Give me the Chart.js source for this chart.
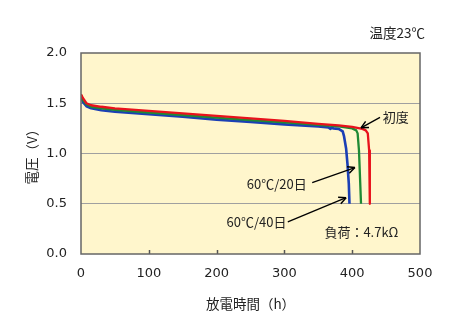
<!DOCTYPE html>
<html><head><meta charset="utf-8">
<script src="https://cdn.jsdelivr.net/npm/chart.js@4"></script>
<style>html,body{margin:0;padding:0;background:#fff}#wrap{width:450px;height:329px}</style>
</head><body><div id="wrap"><canvas id="c" width="450" height="329"></canvas></div>
<script>
const xTicks = [0,100,200,300,400,500];
const yTicks = [0.0,0.5,1.0,1.5,2.0];
const redX   = [0,3,8,15,30,50,100,150,200,250,300,350,380,400,415,420,423,425,426];
const redY   = [1.59,1.55,1.50,1.48,1.465,1.45,1.425,1.40,1.375,1.35,1.325,1.295,1.28,1.265,1.245,1.23,1.20,1.03,0.5];
const greenX = [0,3,8,15,30,50,100,150,200,250,300,350,380,400,406,408,410,413];
const greenY = [1.58,1.53,1.49,1.465,1.448,1.435,1.408,1.383,1.357,1.333,1.31,1.285,1.27,1.25,1.23,1.20,1.03,0.5];
const blueX  = [0,3,8,15,30,50,100,150,200,250,300,350,365,368,370,372,380,386,388,391,393,395,396];
const blueY  = [1.57,1.51,1.47,1.45,1.43,1.415,1.39,1.365,1.337,1.315,1.29,1.27,1.26,1.245,1.26,1.25,1.245,1.22,1.17,1.05,0.9,0.7,0.5];
const seriesNames = ['初度','60℃/20日','60℃/40日'];

const pts = (xs, ys) => xs.map((x, i) => ({x, y: ys[i]}));
const JP = '"Noto Sans CJK JP", "DejaVu Sans", sans-serif';
const NUM = '"DejaVu Sans", sans-serif';

const deco = {
  id: 'deco',
  beforeDraw(chart) {
    const {ctx, chartArea: a} = chart;
    ctx.save();
    ctx.fillStyle = '#FFF6CC';
    ctx.fillRect(a.left, a.top, a.right - a.left, a.bottom - a.top);
    ctx.restore();
  },
  afterDraw(chart) {
    const {ctx, chartArea: a, scales: {x, y}} = chart;
    ctx.save();
    ctx.strokeStyle = '#555';
    ctx.lineWidth = 1.5;
    xTicks.slice(1, -1).forEach(v => {
      const px = Math.round(x.getPixelForValue(v)) + 0.5;
      ctx.beginPath(); ctx.moveTo(px, a.bottom); ctx.lineTo(px, a.bottom - 4); ctx.stroke();
    });
    ctx.strokeStyle = '#666';
    ctx.lineWidth = 1.5;
    ctx.strokeRect(a.left, a.top, a.right - a.left, a.bottom - a.top);
    const arrow = (x1, y1, x2, y2) => {
      const X1 = x.getPixelForValue(x1), Y1 = y.getPixelForValue(y1);
      const X2 = x.getPixelForValue(x2), Y2 = y.getPixelForValue(y2);
      ctx.strokeStyle = '#000'; ctx.lineWidth = 1.3;
      ctx.beginPath(); ctx.moveTo(X1, Y1); ctx.lineTo(X2, Y2); ctx.stroke();
      const ang = Math.atan2(Y2 - Y1, X2 - X1), L = 8, W = 0.45;
      ctx.beginPath();
      ctx.moveTo(X2, Y2);
      ctx.lineTo(X2 - L * Math.cos(ang - W), Y2 - L * Math.sin(ang - W));
      ctx.moveTo(X2, Y2);
      ctx.lineTo(X2 - L * Math.cos(ang + W), Y2 - L * Math.sin(ang + W));
      ctx.lineWidth = 1.5; ctx.stroke();
    };
    arrow(441, 1.36, 413, 1.255);
    arrow(341, 0.71, 404, 0.86);
    arrow(305, 0.32, 391, 0.56);
    ctx.fillStyle = '#222';
    ctx.font = '13px ' + JP;
    ctx.textBaseline = 'middle';
    ctx.textAlign = 'left';
    ctx.fillText(seriesNames[0], x.getPixelForValue(445), y.getPixelForValue(1.36));
    ctx.textAlign = 'right';
    ctx.fillText(seriesNames[1], x.getPixelForValue(333), y.getPixelForValue(0.70));
    ctx.fillText(seriesNames[2], x.getPixelForValue(303), y.getPixelForValue(0.315));
    ctx.textAlign = 'left';
    ctx.fillText('負荷：4.7kΩ', x.getPixelForValue(359), y.getPixelForValue(0.215));
    ctx.textAlign = 'right';
    ctx.font = '13.5px ' + JP;
    ctx.fillText('温度23℃', 425, 33);
    ctx.restore();
  }
};

new Chart(document.getElementById('c'), {
  type: 'line',
  data: {
    datasets: [
      {label: seriesNames[0], data: pts(redX, redY), borderColor: '#E8121C', borderWidth: 2.3},
      {label: seriesNames[1], data: pts(greenX, greenY), borderColor: '#1E8A34', borderWidth: 2.3},
      {label: seriesNames[2], data: pts(blueX, blueY), borderColor: '#1B3FB5', borderWidth: 2.6}
    ]
  },
  options: {
    responsive: false,
    animation: false,
    devicePixelRatio: 1,
    layout: {padding: {left: 0, right: 30, top: 53, bottom: 0}},
    elements: {point: {radius: 0}, line: {tension: 0, fill: false, borderJoinStyle: 'round', borderCapStyle: 'butt'}},
    plugins: {legend: {display: false}, tooltip: {enabled: false}},
    scales: {
      x: {
        type: 'linear', min: 0, max: 500,
        afterFit(s) { s.height = 75; },
        afterBuildTicks(s) { s.ticks = xTicks.map(v => ({value: v})); },
        grid: {display: false, drawTicks: false},
        border: {display: false},
        ticks: {padding: 12, color: '#222', font: {family: NUM, size: 13}, maxRotation: 0},
        title: {display: true, text: '放電時間（h）', color: '#222', font: {family: JP, size: 13.5}, padding: {top: 0, bottom: 17}}
      },
      y: {
        type: 'linear', min: 0, max: 2,
        afterFit(s) { s.width = 81; },
        afterBuildTicks(s) { s.ticks = yTicks.map(v => ({value: v})); },
        grid: {drawTicks: false, color: c => (c.tick && (c.tick.value === 0 || c.tick.value === 2)) ? 'rgba(0,0,0,0)' : '#A0A0A0', lineWidth: 1},
        border: {display: false},
        ticks: {padding: 14, color: '#222', font: {family: NUM, size: 13}, callback: v => Number(v).toFixed(1)},
        title: {display: true, text: '電圧（V）', color: '#222', font: {family: JP, size: 13.5}, padding: {top: 24, bottom: 0}}
      }
    }
  },
  plugins: [deco]
});
</script></body></html>
